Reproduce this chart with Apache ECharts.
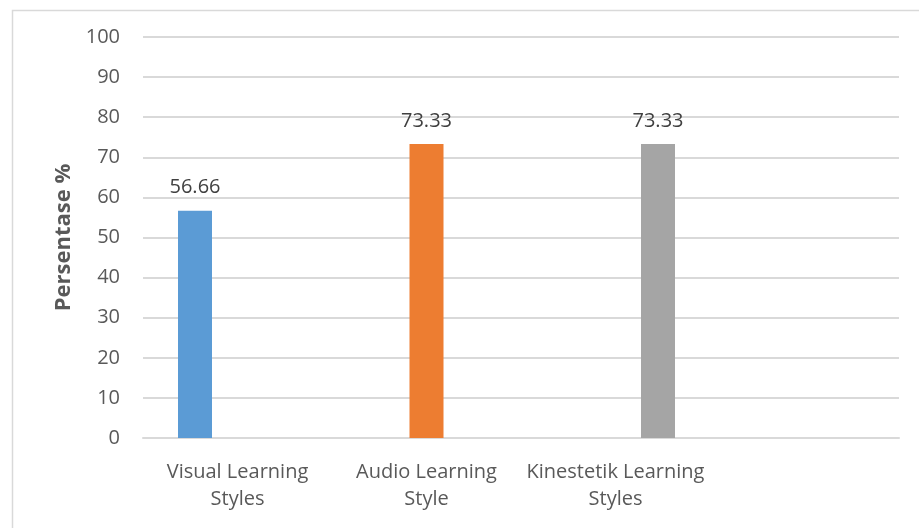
<!DOCTYPE html>
<html>
<head>
<meta charset="utf-8">
<script src="https://cdn.jsdelivr.net/npm/echarts@6/dist/echarts.min.js"></script>
<style>
html,body{margin:0;padding:0;background:#fff;}
#chart{width:919px;height:528px;}
</style>
</head>
<body>
<div id="chart"></div>
<script>
var categories = ['Visual Learning\nStyles', 'Audio Learning\nStyle', 'Kinestetik Learning\nStyles', ''];
var seriesNames = ['Visual Learning Styles', 'Audio Learning Style', 'Kinestetik Learning Styles'];
var values = [56.66, 73.33, 73.33];
var colors = ['#5b9bd5', '#ed7d31', '#a5a5a5'];
var yTicks = [0, 10, 20, 30, 40, 50, 60, 70, 80, 90, 100];

var FONT = '"Open Sans", "Segoe UI", sans-serif';
var chart = echarts.init(document.getElementById('chart'), null, {renderer: 'canvas'});

var series = seriesNames.map(function (name, i) {
  var data = categories.map(function (c, j) { return j === i ? values[i] : '-'; });
  return {
    name: name,
    type: 'bar',
    data: data,
    barWidth: 34,
    barGap: '25%',
    itemStyle: {color: colors[i]},
    label: {
      show: true,
      position: 'top',
      distance: 13,
      color: '#404040',
      fontFamily: FONT,
      fontSize: 20,
      formatter: function (p) { return p.value.toFixed(2); }
    }
  };
});

chart.setOption({
  backgroundColor: '#ffffff',
  animation: false,
  graphic: [{
    type: 'rect',
    left: 10, top: 8,
    shape: {width: 1000, height: 1000},
    style: {fill: 'none', stroke: '#d9d9d9', lineWidth: 1.5},
    silent: true
  }],
  grid: {left: 143, right: 20, top: 37, bottom: 90, containLabel: false},
  xAxis: {
    type: 'category',
    data: categories,
    axisLine: {show: true, lineStyle: {color: '#d9d9d9', width: 2}},
    axisTick: {show: false},
    axisLabel: {
      interval: 0,
      margin: 21,
      color: '#595959',
      fontFamily: FONT,
      fontSize: 20,
      lineHeight: 27
    }
  },
  yAxis: {
    type: 'value',
    min: yTicks[0],
    max: yTicks[yTicks.length - 1],
    interval: 10,
    name: 'Persentase %',
    nameLocation: 'middle',
    nameRotate: 90,
    nameGap: 68,
    nameTextStyle: {color: '#595959', fontFamily: FONT, fontSize: 22, fontWeight: 'bold'},
    axisLine: {show: false},
    axisTick: {show: false},
    splitLine: {lineStyle: {color: '#d9d9d9', width: 2}},
    axisLabel: {color: '#595959', fontFamily: FONT, fontSize: 20, margin: 23}
  },
  series: series
});
</script>
</body>
</html>
